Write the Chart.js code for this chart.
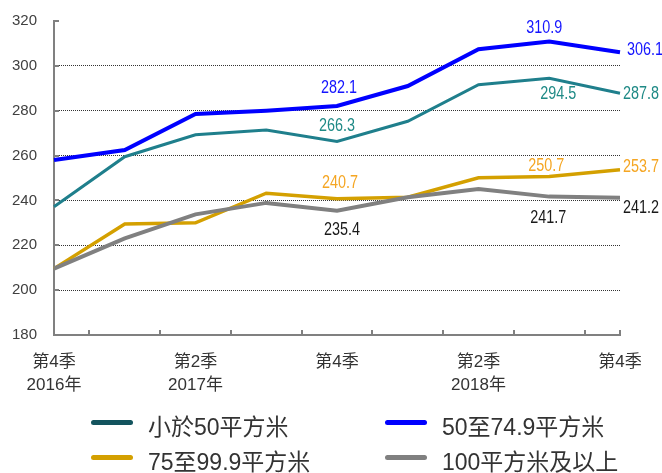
<!DOCTYPE html>
<html>
<head>
<meta charset="utf-8">
<script src="https://cdn.jsdelivr.net/npm/chart.js@4.4.1/dist/chart.umd.min.js"></script>
<style>
  html, body { margin:0; padding:0; background:#fff; }
  #wrap { position:relative; width:662px; height:473px; overflow:hidden; }
  #c { position:absolute; left:0; top:0; }
  .lg { position:absolute; font-family:"Liberation Sans","Noto Sans CJK TC",sans-serif; font-size:23px; color:#333; line-height:24px; white-space:nowrap; }
  .sw { position:absolute; height:5px; border-radius:3px; }
</style>
</head>
<body>
<div id="wrap">
  <canvas id="c" width="662" height="473"></canvas>
  <div id="legend"></div>
</div>
<script>
// ---- data ----
const categories = ['2016Q4','2017Q1','2017Q2','2017Q3','2017Q4','2018Q1','2018Q2','2018Q3','2018Q4'];
const tickLabels = [['第4季','2016年'], '', ['第2季','2017年'], '', '第4季', '', ['第2季','2018年'], '', '第4季'];
const seriesNames = ['小於50平方米', '50至74.9平方米', '75至99.9平方米', '100平方米及以上'];
const under50   = [237.2, 259.5, 269.3, 271.4, 266.3, 275.3, 291.6, 294.5, 287.8];
const s50to75   = [258.0, 262.5, 278.5, 280.0, 282.1, 291.0, 307.4, 310.9, 306.1];
const s75to100  = [209.6, 229.5, 230.0, 243.2, 240.7, 241.4, 250.1, 250.7, 253.7];
const over100   = [209.6, 223.1, 233.8, 238.9, 235.4, 241.4, 245.1, 241.7, 241.2];
const yTicks    = [180, 200, 220, 240, 260, 280, 300, 320];
const labelledPoints = [4, 7, 8];

// ---- styles ----
const lineColors   = ['#1F7F8C', '#0000FF', '#D4A000', '#808080'];
const legendColors = ['#13545E', '#0000FF', '#D4A000', '#808080'];
const textColors   = ['#1F8A86', '#1515FF', '#F5A623', '#1a1a1a'];
const lineWidths   = [3, 4, 3.5, 4];
// label offsets [dx, dy, align] per series per labelled point
const labelOffsets = [
  [[0,-15,'center'], [9,16,'center'], [3,1,'left']],
  [[2,-18,'center'], [-5,-13,'center'], [7,-2,'left']],
  [[3,-16,'center'], [-3,-10,'center'], [3,-3,'left']],
  [[5,19,'center'], [-1,21,'center'], [3,10,'left']]
];
const numFont = '"Liberation Sans","Noto Sans CJK TC",sans-serif';

const allSeries = [under50, s50to75, s75to100, over100];

const valueLabels = {
  id: 'valueLabels',
  afterDatasetsDraw(chart) {
    const ctx = chart.ctx;
    allSeries.forEach((arr, si) => {
      const meta = chart.getDatasetMeta(si);
      labelledPoints.forEach((pi, k) => {
        const el = meta.data[pi];
        const [dx, dy, al] = labelOffsets[si][k];
        ctx.save();
        ctx.font = '18px ' + numFont;
        ctx.textBaseline = 'middle';
        ctx.fillStyle = textColors[si];
        ctx.textAlign = al;
        ctx.translate(el.x + dx, el.y + dy);
        ctx.scale(0.8, 1);
        ctx.fillText(arr[pi].toFixed(1), 0, 0);
        ctx.restore();
      });
    });
  }
};

const innerTicks = {
  id: 'innerTicks',
  afterDraw(chart) {
    const ctx = chart.ctx, xs = chart.scales.x, ys = chart.scales.y;
    const a = chart.chartArea;
    ctx.save();
    ctx.strokeStyle = '#808080';
    ctx.lineWidth = 2;
    ctx.beginPath();
    yTicks.forEach(v => {
      const y = Math.round(ys.getPixelForValue(v));
      ctx.moveTo(a.left, y); ctx.lineTo(a.left + 5, y);
    });
    for (let i = 0; i < categories.length - 1; i++) {
      const x = Math.round((xs.getPixelForValue(i) + xs.getPixelForValue(i + 1)) / 2);
      ctx.moveTo(x, a.bottom); ctx.lineTo(x, a.bottom - 5);
    }
    const xe = Math.round(xs.getPixelForValue(categories.length - 1));
    ctx.moveTo(xe, a.bottom); ctx.lineTo(xe, a.bottom - 5);
    ctx.stroke();
    ctx.restore();
  }
};

new Chart(document.getElementById('c'), {
  type: 'line',
  data: {
    labels: categories,
    datasets: allSeries.map((arr, i) => ({
      label: seriesNames[i],
      data: arr,
      borderColor: lineColors[i],
      backgroundColor: lineColors[i],
      borderWidth: lineWidths[i],
      pointRadius: 0,
      tension: 0,
      fill: false,
      order: 4 - i
    }))
  },
  options: {
    responsive: false,
    animation: false,
    devicePixelRatio: 1,
    layout: { padding: { top: 21, right: 42, left: 0, bottom: 0 } },
    plugins: { legend: { display: false }, tooltip: { enabled: false } },
    scales: {
      x: {
        type: 'category',
        offset: false,
        grid: { display: false, drawTicks: false },
        border: { display: true, color: '#808080', width: 2 },
        ticks: {
          autoSkip: false, maxRotation: 0, padding: 15,
          color: '#333',
          font: { family: numFont, size: 17, lineHeight: 1.4 },
          callback: (v, i) => tickLabels[i]
        },
        afterFit: s => { s.height = 138; s.paddingTop = 0; s.paddingBottom = 0; }
      },
      y: {
        min: 180, max: 320,
        afterBuildTicks: s => { s.ticks = yTicks.map(v => ({ value: v })); },
        grid: {
          drawTicks: false,
          lineWidth: 1,
          color: c => (c.tick && c.tick.value > 180 && c.tick.value < 320) ? '#333' : 'rgba(0,0,0,0)'
        },
        border: { display: true, color: '#808080', width: 2, dash: [1, 1] },
        ticks: {
          padding: 17, color: '#404040',
          font: { family: numFont, size: 15 }
        },
        afterFit: s => { s.width = 54; s.paddingTop = 0; s.paddingBottom = 0; }
      }
    }
  },
  plugins: [valueLabels, innerTicks]
});

// ---- HTML legend ----
const legendPos = [[91, 422], [385, 422], [91, 457], [385, 457]];
const lg = document.getElementById('legend');
seriesNames.forEach((n, i) => {
  const [x, y] = legendPos[i];
  const sw = document.createElement('div');
  sw.className = 'sw';
  sw.style.left = x + 'px'; sw.style.top = (y - 2) + 'px'; sw.style.width = '42px';
  sw.style.background = legendColors[i];
  lg.appendChild(sw);
  const t = document.createElement('div');
  t.className = 'lg';
  t.style.left = (x + 57) + 'px'; t.style.top = (y + 5 - 12) + 'px';
  t.textContent = n;
  lg.appendChild(t);
});
</script>
</body>
</html>
